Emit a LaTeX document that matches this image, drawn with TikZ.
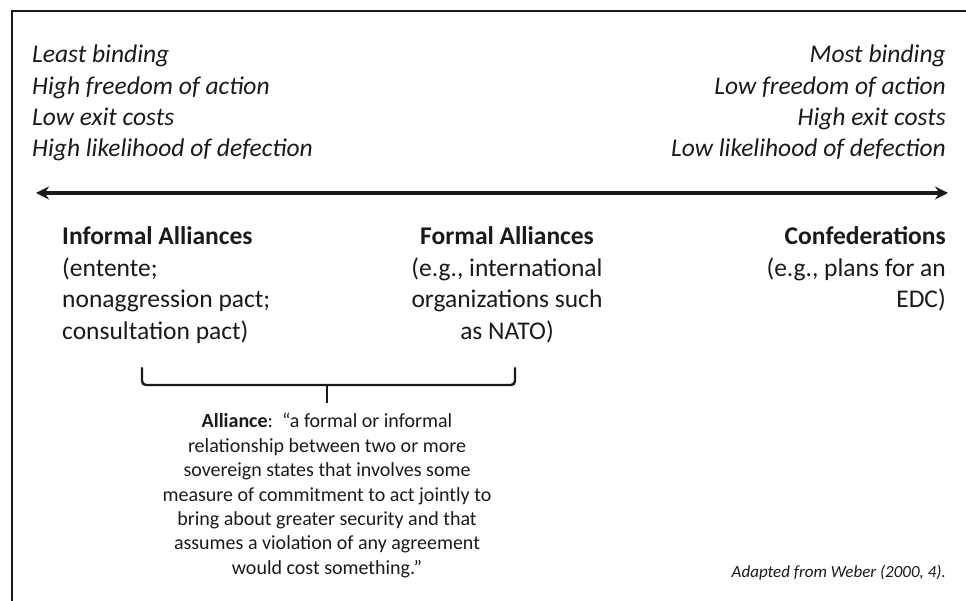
\documentclass[tikz,border=0pt]{standalone}
\usepackage{fontspec}
\setmainfont{Carlito}
\usetikzlibrary{arrows.meta}
\definecolor{ink}{HTML}{1A1A1A}
\tikzset{
  x=1pt, y=1pt,
  txt/.style={inner sep=0pt, text=ink, font=\fontsize{25.5}{30}\selectfont},
  side/.style={txt, font=\fontsize{25.5}{30}\selectfont\itshape},
  head/.style={txt, font=\fontsize{25.5}{30}\selectfont\bfseries},
  quote/.style={inner sep=0pt, text=ink, font=\fontsize{20}{24}\selectfont},
  note/.style={inner sep=0pt, text=ink, font=\fontsize{17}{20}\selectfont\itshape},
  axis/.style={line width=3.2pt, draw=ink, {Stealth[length=13pt,width=13pt]}-{Stealth[length=13pt,width=13pt]}},
  brace/.style={line width=2.4pt, draw=ink, rounded corners=4pt, line cap=round}
}
\begin{document}
\begin{tikzpicture}
\useasboundingbox (0,0) rectangle (966,601);
% frame, running past the page on the right and bottom
\begin{scope}
\clip (0,0) rectangle (966,601);
\draw[line width=2.2pt, draw=ink] (12,-20) -- (12,590) -- (990,590);
\end{scope}

% left column of properties
\foreach \t [count=\i] in {Least binding, High freedom of action, Low exit costs, High likelihood of defection}
  \node[side, anchor=base west] (l\i) at (32, 601-63-31.3*\i+31.3) {\t};
% right column of properties
\foreach \t [count=\i] in {Most binding, Low freedom of action, High exit costs, Low likelihood of defection}
  \node[side, anchor=base east] (r\i) at (946, 601-63-31.3*\i+31.3) {\t};

% the scale
\coordinate (aL) at (36,408);
\coordinate (aR) at (948,408);
\draw[axis] (aL) -- (aR);

% informal alliances
\node[head, anchor=base west] (ia) at (62,601-245) {Informal Alliances};
\foreach \t [count=\i] in {{(entente;}, {nonaggression pact;}, {consultation pact)}}
  \node[txt, anchor=base west] (ia\i) at (62,601-245-31.5*\i) {\t};

% formal alliances
\node[head, anchor=base] (fa) at (507,601-245) {Formal Alliances};
\foreach \t [count=\i] in {{(e.g., international}, {organizations such}, {as NATO)}}
  \node[txt, anchor=base] (fa\i) at (507,601-245-31.5*\i) {\t};

% confederations
\node[head, anchor=base east] (cf) at (946,601-245) {Confederations};
\foreach \t [count=\i] in {{(e.g., plans for an}, {EDC)}}
  \node[txt, anchor=base east] (cf\i) at (946,601-245-31.5*\i) {\t};

% brace grouping the two kinds of alliance
\coordinate (b1) at (142,601-368);
\coordinate (b2) at (515,601-368);
\coordinate (bm) at (327,601-385);
\coordinate (bt) at (327,601-403);
\draw[brace] (b1) |- (bm) -| (b2);
\draw[line width=2.4pt, draw=ink] (bm) -- (bt);

% definition
\node[quote, anchor=base] (q1) at (327,601-428) {\textbf{Alliance}:\ \ “a formal or informal};
\foreach \t [count=\i] in {relationship between two or more, sovereign states that involves some, measure of commitment to act jointly to, bring about greater security and that, assumes a violation of any agreement, would cost something.”}
  \node[quote, anchor=base] (q\i x) at (327,601-428-24.4*\i) {\t};

% source
\node[note, anchor=base east] (src) at (946,601-578) {Adapted from Weber (2000, 4).};
\end{tikzpicture}
\end{document}
